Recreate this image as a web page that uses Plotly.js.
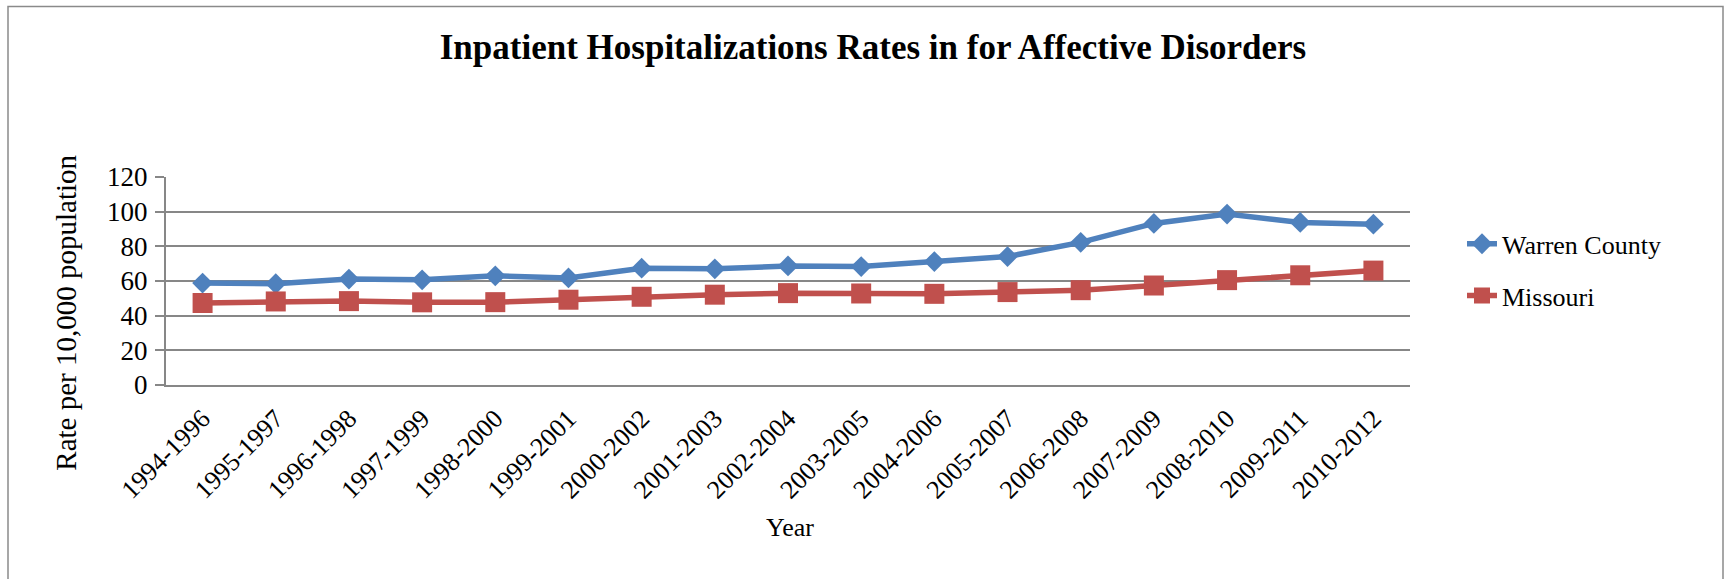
<!DOCTYPE html>
<html>
<head>
<meta charset="utf-8">
<script src="https://cdn.plot.ly/plotly-3.0.1.min.js"></script>
<style>
  html, body { margin: 0; padding: 0; background: #ffffff; }
  #chart { width: 1732px; height: 579px; }
</style>
</head>
<body>
<div id="chart"></div>
<script>
const categories = ["1994-1996","1995-1997","1996-1998","1997-1999","1998-2000","1999-2001",
  "2000-2002","2001-2003","2002-2004","2003-2005","2004-2006","2005-2007","2006-2008",
  "2007-2009","2008-2010","2009-2011","2010-2012"];
const warrenCounty = [58.8, 58.4, 61.1, 60.7, 63.0, 61.8, 67.4, 67.0, 68.7, 68.3, 71.2, 74.1, 82.3, 93.2, 98.6, 93.8, 92.8];
const missouri = [47.3, 48.2, 48.4, 47.7, 47.8, 49.2, 50.9, 52.1, 53.0, 52.8, 52.6, 53.6, 54.7, 57.4, 60.5, 63.3, 66.0];
const yTicks = [0, 20, 40, 60, 80, 100, 120];

const serif = "Liberation Serif";
const gridGray = "#878787";

const traces = [
  {
    x: categories, y: warrenCounty, name: "Warren County", type: "scatter", mode: "lines+markers",
    line: { color: "#4F81BD", width: 5.5 },
    marker: { symbol: "diamond", size: 16, color: "#4F81BD" },
    legend: "legend"
  },
  {
    x: categories, y: missouri, name: "Missouri", type: "scatter", mode: "lines+markers",
    line: { color: "#C0504D", width: 5.5 },
    marker: { symbol: "square", size: 20, color: "#C0504D" },
    legend: "legend2"
  }
];

const L = 166, R = 1410, T = 177, B = 385.5, W = 1732, H = 579;
const pw = R - L, ph = B - T;
const px2x = (px) => (px - L) / pw;
const py2y = (py) => (B - py) / ph;

const layout = {
  width: W, height: H,
  paper_bgcolor: "#ffffff", plot_bgcolor: "#ffffff",
  margin: { l: L, r: W - R, t: T, b: H - B, pad: 0 },
  font: { family: serif, color: "#000000", size: 26 },
  title: {
    text: "<b>Inpatient Hospitalizations Rates in for Affective Disorders</b>",
    font: { family: serif, size: 35, color: "#000000" },
    x: 873 / W, xanchor: "center", xref: "container",
    y: 1 - 47 / H, yanchor: "middle", yref: "container"
  },
  xaxis: {
    type: "category",
    tickangle: -45,
    tickfont: { family: serif, size: 26, color: "#000000" },
    ticklabelstandoff: 6,
    showline: true, linecolor: gridGray, linewidth: 2,
    ticks: "", showgrid: false, zeroline: false,
    range: [-0.5, categories.length - 0.5]
  },
  yaxis: {
    range: [0, 120],
    tickvals: yTicks,
    ticktext: yTicks.map(String),
    tickfont: { family: serif, size: 27, color: "#000000" },
    ticklabelstandoff: 2,
    showline: true, linecolor: gridGray, linewidth: 2,
    ticks: "outside", ticklen: 9, tickcolor: gridGray, tickwidth: 2,
    showgrid: true, gridcolor: gridGray, gridwidth: 2,
    zeroline: false
  },
  showlegend: true,
  legend: {
    x: px2x(1462), xanchor: "left", y: py2y(244), yanchor: "middle",
    font: { family: serif, size: 26, color: "#000000" }, bgcolor: "rgba(0,0,0,0)"
  },
  legend2: {
    x: px2x(1462), xanchor: "left", y: py2y(296), yanchor: "middle",
    font: { family: serif, size: 26, color: "#000000" }, bgcolor: "rgba(0,0,0,0)"
  },
  annotations: [
    {
      text: "Rate per 10,000 population", textangle: -90,
      xref: "paper", yref: "paper", x: px2x(66), y: py2y(313),
      xanchor: "center", yanchor: "middle", showarrow: false,
      font: { family: serif, size: 29, color: "#000000" }
    },
    {
      text: "Year",
      xref: "paper", yref: "paper", x: px2x(790), y: py2y(528),
      xanchor: "center", yanchor: "middle", showarrow: false,
      font: { family: serif, size: 26, color: "#000000" }
    }
  ],
  shapes: [
    {
      type: "rect", xref: "paper", yref: "paper",
      x0: px2x(8), x1: px2x(1723), y0: py2y(600), y1: py2y(6),
      line: { color: "#8a8a8a", width: 1.5 }, fillcolor: "rgba(0,0,0,0)", layer: "below"
    }
  ]
};

Plotly.newPlot("chart", traces, layout, { displayModeBar: false, staticPlot: true });
</script>
</body>
</html>
